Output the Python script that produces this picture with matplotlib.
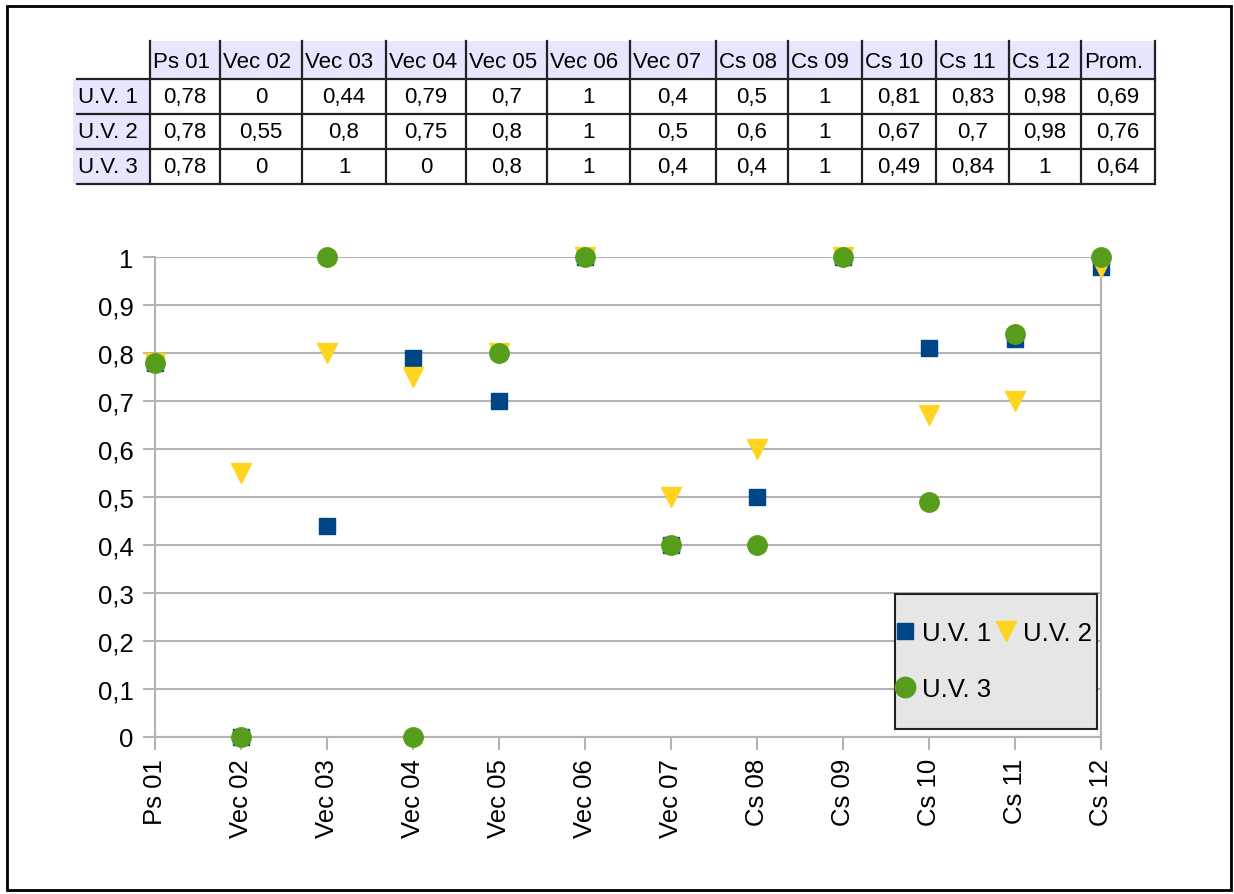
import matplotlib.pyplot as plt
from matplotlib.patches import Rectangle
from matplotlib.ticker import FuncFormatter, MultipleLocator

plt.rcParams['font.family'] = ['Liberation Sans', 'DejaVu Sans']

# data
categories = ['Ps 01', 'Vec 02', 'Vec 03', 'Vec 04', 'Vec 05', 'Vec 06',
              'Vec 07', 'Cs 08', 'Cs 09', 'Cs 10', 'Cs 11', 'Cs 12']
series_names = ['U.V. 1', 'U.V. 2', 'U.V. 3']
uv1 = [0.78, 0, 0.44, 0.79, 0.7, 1, 0.4, 0.5, 1, 0.81, 0.83, 0.98]
uv2 = [0.78, 0.55, 0.8, 0.75, 0.8, 1, 0.5, 0.6, 1, 0.67, 0.7, 0.98]
uv3 = [0.78, 0, 1, 0, 0.8, 1, 0.4, 0.4, 1, 0.49, 0.84, 1]
prom = [0.69, 0.76, 0.64]

W, H = 1234, 895
fig = plt.figure(figsize=(W / 100, H / 100), dpi=100)


def fx(px):
    return px / W


def fy(py):
    return 1 - py / H


def fmt(v):
    return f"{v:g}".replace('.', ',')


# outer border
fig.patches.append(Rectangle((fx(7), fy(891)), fx(1224), 884 / H, transform=fig.transFigure,
                             fill=False, edgecolor='black', linewidth=2))

# ---- chart ----
ax = fig.add_axes([fx(155), fy(738), fx(1101 - 155), (738 - 258) / H])
x = range(len(categories))
colors = ['#004586', '#ffd320', '#579d1c']
h1, = ax.plot(x, uv1, 's', color=colors[0], markersize=11, clip_on=False, zorder=3, label=series_names[0])
h2, = ax.plot(x, uv2, 'v', color=colors[1], markersize=14, clip_on=False, zorder=4, label=series_names[1])
h3, = ax.plot(x, uv3, 'o', color=colors[2], markersize=14, clip_on=False, zorder=5, label=series_names[2])

ax.set_xlim(0, len(categories) - 1)
ax.set_ylim(0, 1)
ax.set_xticks(list(x))
ax.set_xticklabels(categories, rotation=90, fontsize=18.5)
ax.yaxis.set_major_locator(MultipleLocator(0.1))
ax.yaxis.set_major_formatter(FuncFormatter(lambda v, p: fmt(round(v, 1))))
ax.tick_params(axis='y', labelsize=18.5, length=9, width=1.5, color='#b3b3b3', pad=6.5)
ax.tick_params(axis='x', length=9, width=1.5, color='#b3b3b3', pad=6)
ax.grid(axis='y', color='#b3b3b3', linewidth=1.5)
ax.set_axisbelow(True)
for s in ['left', 'right', 'bottom']:
    ax.spines[s].set_color('#b3b3b3')
    ax.spines[s].set_linewidth(1.5)
ax.spines['top'].set_visible(False)

# legend box drawn separately, entries placed inside
fig.patches.append(Rectangle((fx(895), fy(730)), fx(1097 - 895), (730 - 595) / H,
                             transform=fig.transFigure, facecolor='#e6e6e6',
                             edgecolor='#222222', linewidth=1.5, zorder=6))
leg = fig.legend([h1, h3, h2], [series_names[0], series_names[2], series_names[1]], ncol=2,
                 loc='upper left', bbox_to_anchor=(fx(895), fy(622)),
                 borderaxespad=0, borderpad=0, fontsize=18.5, frameon=False,
                 handlelength=0.75, handletextpad=0.3, columnspacing=0.2,
                 labelspacing=1.25, markerscale=1.05)
leg.set_zorder(7)

# ---- table ----
tab = fig.add_axes([0, 0, 1, 1], zorder=10)
tab.set_xlim(0, W)
tab.set_ylim(H, 0)
tab.axis('off')

col_edges = [77, 150, 220, 302, 386, 466, 547, 630, 716, 788, 862, 936, 1009, 1081, 1155]
row_edges = [42, 80, 115, 150, 185]
headers = categories + ['Prom.']
rows = [uv1 + [prom[0]], uv2 + [prom[1]], uv3 + [prom[2]]]

tab.add_patch(Rectangle((col_edges[1], row_edges[0]), col_edges[-1] - col_edges[1],
                        row_edges[1] - row_edges[0], color='#e6e6ff', lw=0))
tab.add_patch(Rectangle((73, row_edges[1]), col_edges[1] - 73,
                        row_edges[-1] - row_edges[1], color='#e6e6ff', lw=0))

for xe in col_edges[1:]:
    tab.plot([xe, xe], [row_edges[0], row_edges[-1]], color='#222222', lw=1.6)
for ye in row_edges[1:]:
    tab.plot([col_edges[0], col_edges[-1]], [ye, ye], color='#222222', lw=1.6)

for j, hd in enumerate(headers):
    tab.text(col_edges[j + 1] + 3, (row_edges[0] + row_edges[1]) / 2 + 1, hd,
             ha='left', va='center', fontsize=16)
for i, name in enumerate(series_names):
    yc = (row_edges[i + 1] + row_edges[i + 2]) / 2
    tab.text(col_edges[0] + 1, yc, name, ha='left', va='center', fontsize=16)
    for j, v in enumerate(rows[i]):
        tab.text((col_edges[j + 1] + col_edges[j + 2]) / 2, yc, fmt(v),
                 ha='center', va='center', fontsize=16)

fig.savefig('out.png', dpi=100)
